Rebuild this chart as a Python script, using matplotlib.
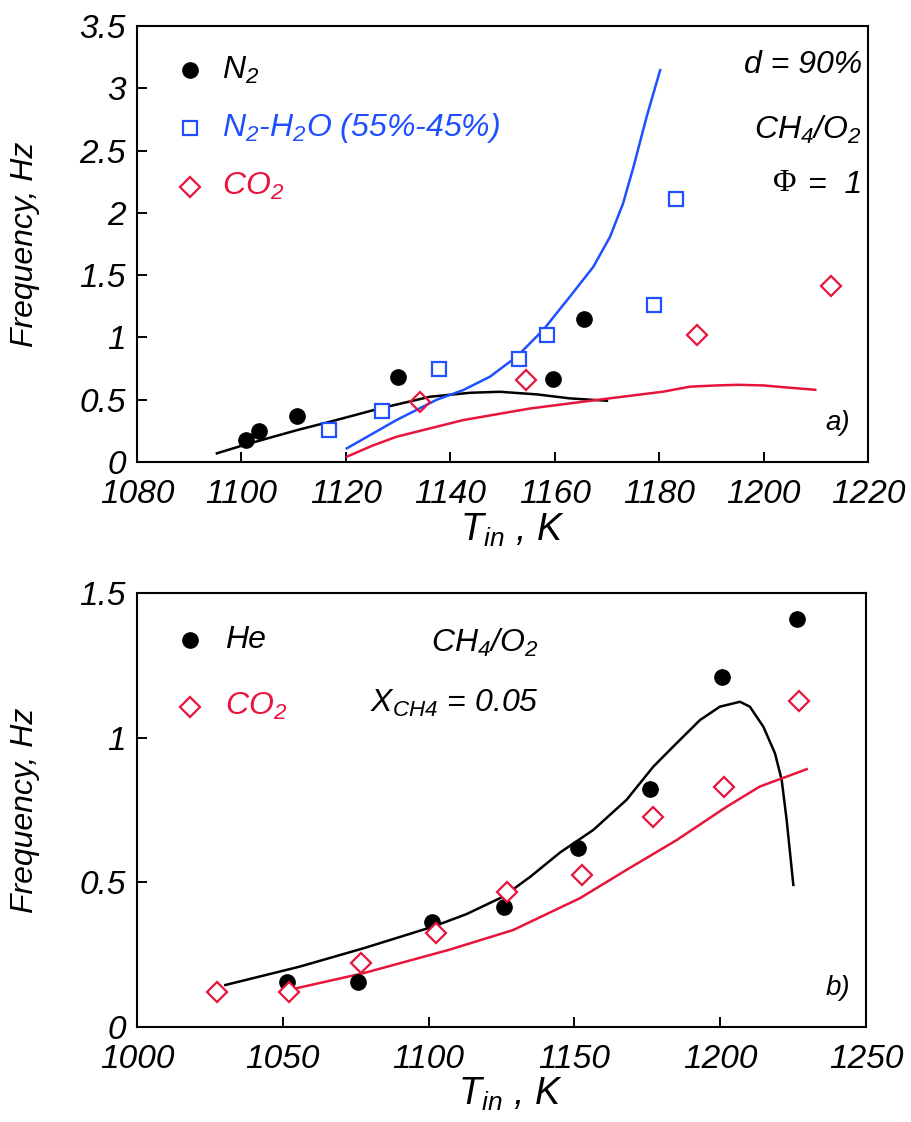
import matplotlib
matplotlib.use("Agg")
import matplotlib.pyplot as plt

plt.rcParams['font.family'] = ['Liberation Sans', 'DejaVu Sans']
plt.rcParams['font.style'] = 'italic'
plt.rcParams['mathtext.fontset'] = 'custom'
plt.rcParams['mathtext.it'] = 'Liberation Sans:italic'
plt.rcParams['mathtext.rm'] = 'Liberation Sans:italic'

BLUE = '#1f50ff'
RED = '#e8143c'

# ---- panel a) data ----
n2_T = [1100.9, 1103.4, 1110.6, 1130.0, 1159.6, 1165.7]
n2_F = [0.18, 0.25, 0.37, 0.685, 0.666, 1.15]
n2h2o_T = [1116.8, 1127.0, 1137.8, 1153.1, 1158.6, 1179.0, 1183.2]
n2h2o_F = [0.26, 0.41, 0.75, 0.83, 1.02, 1.26, 2.11]
co2a_T = [1134.3, 1154.5, 1187.2, 1213.0]
co2a_F = [0.48, 0.66, 1.02, 1.41]

n2_line_T = [1095.3, 1100, 1105, 1111, 1117.0, 1126.5, 1136.1, 1143.8, 1149.5,
             1156.6, 1162.9, 1170.0]
n2_line_F = [0.07, 0.13, 0.19, 0.26, 0.324, 0.43, 0.524, 0.556, 0.564,
             0.543, 0.511, 0.492]
n2h2o_line_T = [1120.2, 1129.7, 1137.4, 1142.5, 1147.6, 1152.7, 1157.8, 1162.9,
                1167.4, 1170.6, 1173.1, 1175.1, 1177.6, 1180.2]
n2h2o_line_F = [0.11, 0.337, 0.50, 0.578, 0.685, 0.845, 1.06, 1.327,
                1.567, 1.808, 2.076, 2.37, 2.77, 3.146]
co2a_line_T = [1120.2, 1125, 1129.7, 1142.5, 1155.3, 1168.0, 1180.8, 1185.9,
               1191, 1195.1, 1200, 1204, 1209.9]
co2a_line_F = [0.043, 0.13, 0.203, 0.337, 0.43, 0.498, 0.565, 0.605,
               0.615, 0.62, 0.615, 0.60, 0.58]

# ---- panel b) data ----
he_T = [1051.3, 1075.7, 1101.3, 1126.0, 1151.4, 1176.0, 1200.6, 1226.2]
he_F = [0.157, 0.154, 0.362, 0.414, 0.618, 0.822, 1.21, 1.41]
co2b_T = [1027.4, 1052.1, 1076.9, 1102.5, 1126.9, 1152.5, 1177.0, 1201.4, 1227.0]
co2b_F = [0.12, 0.12, 0.22, 0.324, 0.468, 0.525, 0.727, 0.83, 1.128]

he_line_T = [1030.3, 1055.6, 1077.7, 1101.6, 1113, 1125.5, 1135, 1145.1, 1156.5,
             1167.9, 1177.1, 1183.9, 1193.1, 1199.9, 1206.8, 1210.2, 1214.8,
             1218.8, 1221.1, 1222.8, 1225.1]
he_line_F = [0.145, 0.208, 0.272, 0.347, 0.39, 0.45, 0.52, 0.603, 0.681,
             0.785, 0.90, 0.969, 1.061, 1.107, 1.124, 1.107, 1.038,
             0.946, 0.854, 0.716, 0.491]
co2b_line_T = [1052.1, 1077.7, 1106.8, 1129.0, 1151.9, 1167.9, 1185.1, 1202.2,
               1213.6, 1229.7]
co2b_line_F = [0.128, 0.186, 0.266, 0.335, 0.445, 0.543, 0.646, 0.761,
               0.831, 0.891]

fig = plt.figure(figsize=(9.12, 11.22), dpi=100)
ax1 = fig.add_axes([0.1502, 0.5882, 0.8015, 0.3886])
ax2 = fig.add_axes([0.1502, 0.0847, 0.7993, 0.3868])


def style_axis(ax):
    for sp in ax.spines.values():
        sp.set_linewidth(1.5)
    ax.tick_params(direction='in', length=7, width=1.4, labelsize=24,
                   top=False, right=False)
    ax.tick_params(axis='x', pad=12)
    ax.tick_params(axis='y', pad=8)
    for lab in ax.get_xticklabels() + ax.get_yticklabels():
        lab.set_fontstyle('italic')


# panel a
ax1.plot(n2_line_T, n2_line_F, color='black', lw=1.8)
ax1.plot(n2h2o_line_T, n2h2o_line_F, color=BLUE, lw=1.8)
ax1.plot(co2a_line_T, co2a_line_F, color=RED, lw=1.8)
ax1.plot(n2_T, n2_F, 'o', color='black', ms=11, ls='none')
ax1.plot(n2h2o_T, n2h2o_F, 's', mfc='white', mec=BLUE, mew=1.6, ms=10, ls='none')
ax1.plot(co2a_T, co2a_F, 'D', mfc='none', mec=RED, mew=1.6, ms=10.5, ls='none')
ax1.set_xlim(1080, 1220)
ax1.set_ylim(0, 3.5)
ax1.set_xticks(range(1080, 1221, 20))
ax1.set_yticks([0, 0.5, 1, 1.5, 2, 2.5, 3, 3.5])
ax1.set_yticklabels(['0', '0.5', '1', '1.5', '2', '2.5', '3', '3.5'])
style_axis(ax1)
ax1.set_xlabel('T$_{in}$ , K', fontsize=27, va='top')
ax1.xaxis.set_label_coords(0.513, -0.115)
ax1.set_ylabel('Frequency, Hz', fontsize=23)
ax1.yaxis.set_label_coords(-0.132, 0.5)

# legend-like annotations
ax1.plot([0.073], [0.899], 'o', color='black', ms=11, transform=ax1.transAxes)
ax1.plot([0.073], [0.766], 's', mfc='white', mec=BLUE, mew=1.6, ms=10, transform=ax1.transAxes)
ax1.plot([0.073], [0.631], 'D', mfc='none', mec=RED, mew=1.6, ms=10.5, transform=ax1.transAxes)
ax1.text(0.116, 0.899, 'N$_2$', transform=ax1.transAxes, fontsize=23, va='center')
ax1.text(0.116, 0.766, 'N$_2$-H$_2$O (55%-45%)', transform=ax1.transAxes, fontsize=23,
         va='center', color=BLUE)
ax1.text(0.116, 0.631, 'CO$_2$', transform=ax1.transAxes, fontsize=23, va='center', color=RED)
ax1.text(0.992, 0.911, 'd = 90%', transform=ax1.transAxes, fontsize=23, va='center', ha='right')
ax1.text(0.992, 0.761, 'CH$_4$/O$_2$', transform=ax1.transAxes, fontsize=23, va='center', ha='right')
ax1.text(0.992, 0.635, '=  1', transform=ax1.transAxes, fontsize=23, va='center', ha='right')
ax1.text(0.886, 0.638, 'Φ', transform=ax1.transAxes, fontsize=23, va='center', ha='center',
         family='Liberation Serif', fontstyle='normal')
ax1.text(0.975, 0.089, 'a)', transform=ax1.transAxes, fontsize=20, va='center', ha='right')

# panel b
ax2.plot(he_line_T, he_line_F, color='black', lw=1.8)
ax2.plot(co2b_line_T, co2b_line_F, color=RED, lw=1.8)
ax2.plot(he_T, he_F, 'o', color='black', ms=11, ls='none')
ax2.plot(co2b_T, co2b_F, 'D', mfc='white', mec=RED, mew=1.6, ms=10.5, ls='none')
ax2.set_xlim(1000, 1250)
ax2.set_ylim(0, 1.5)
ax2.set_xticks(range(1000, 1251, 50))
ax2.set_yticks([0, 0.5, 1, 1.5])
ax2.set_yticklabels(['0', '0.5', '1', '1.5'])
style_axis(ax2)
ax2.set_xlabel('T$_{in}$ , K', fontsize=27, va='top')
ax2.xaxis.set_label_coords(0.512, -0.113)
ax2.set_ylabel('Frequency, Hz', fontsize=23)
ax2.yaxis.set_label_coords(-0.133, 0.5)

ax2.plot([0.073], [0.892], 'o', color='black', ms=11, transform=ax2.transAxes)
ax2.plot([0.073], [0.738], 'D', mfc='none', mec=RED, mew=1.6, ms=10.5, transform=ax2.transAxes)
ax2.text(0.121, 0.892, 'He', transform=ax2.transAxes, fontsize=23, va='center')
ax2.text(0.121, 0.738, 'CO$_2$', transform=ax2.transAxes, fontsize=23, va='center', color=RED)
ax2.text(0.477, 0.885, 'CH$_4$/O$_2$', transform=ax2.transAxes, fontsize=23, va='center', ha='center')
ax2.text(0.436, 0.746, 'X$_{CH4}$ = 0.05', transform=ax2.transAxes, fontsize=23,
         va='center', ha='center')
ax2.text(0.978, 0.09, 'b)', transform=ax2.transAxes, fontsize=20, va='center', ha='right')

fig.savefig('out.png', dpi=100)
